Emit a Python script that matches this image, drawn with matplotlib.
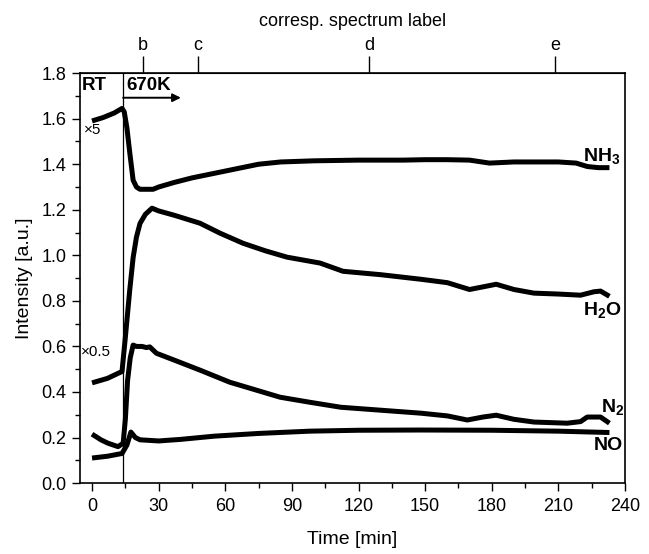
import matplotlib
matplotlib.use("Agg")
import matplotlib.pyplot as plt
from matplotlib.ticker import MultipleLocator

plt.rcParams['font.family'] = ['Liberation Sans', 'DejaVu Sans']
plt.rcParams['mathtext.default'] = 'regular'

# ---- data ----
t_nh3 = [0, 5, 10, 13.5, 14.5, 15.7, 17, 18.5, 20, 21.6, 27.5, 30, 37, 45, 55, 65, 75,
         85, 100, 120, 140, 150, 160, 170, 179, 190, 200, 210, 218, 223, 228, 233]
nh3 = [1.59, 1.605, 1.625, 1.645, 1.63, 1.56, 1.45, 1.33, 1.30, 1.29, 1.29, 1.30, 1.32,
       1.34, 1.36, 1.38, 1.40, 1.41, 1.415, 1.418, 1.418, 1.42, 1.42, 1.418, 1.405,
       1.41, 1.41, 1.41, 1.405, 1.39, 1.385, 1.385]

t_h2o = [0, 7, 13.5, 15, 17, 18.5, 20, 21.6, 24, 27, 30, 37, 48.6, 57.7, 68, 78, 87.8,
         102.7, 113, 130, 148, 160, 170, 182, 190, 199, 210, 220, 226, 229, 233]
h2o = [0.44, 0.46, 0.49, 0.64, 0.85, 0.99, 1.08, 1.14, 1.18, 1.207, 1.195, 1.176, 1.141,
       1.097, 1.053, 1.02, 0.992, 0.966, 0.93, 0.915, 0.895, 0.88, 0.85, 0.873, 0.85,
       0.834, 0.83, 0.825, 0.84, 0.843, 0.82]

t_n2 = [0, 4, 7.2, 11.7, 14, 15, 16, 17.2, 18.5, 20, 22.5, 24.5, 26, 29, 37, 48.6, 62,
        84.7, 98, 112, 130, 148, 160, 169, 176, 182, 190, 199, 214, 220, 223, 229, 233]
n2 = [0.215, 0.19, 0.175, 0.16, 0.175, 0.28, 0.45, 0.55, 0.606, 0.60, 0.60, 0.595,
      0.598, 0.57, 0.54, 0.496, 0.443, 0.377, 0.355, 0.333, 0.32, 0.307, 0.295, 0.277,
      0.29, 0.298, 0.28, 0.268, 0.263, 0.27, 0.29, 0.29, 0.263]

t_no = [0, 7, 13.5, 15.7, 17.5, 19.5, 21.6, 30, 40, 55, 75, 98, 120, 148, 180, 210, 233]
no = [0.11, 0.118, 0.13, 0.167, 0.224, 0.20, 0.19, 0.185, 0.192, 0.206, 0.218, 0.228,
      0.232, 0.233, 0.232, 0.228, 0.222]

spec_pos = [23, 47.7, 124.8, 208.5]
spec_labels = ['b', 'c', 'd', 'e']

# ---- figure ----
fig = plt.figure(figsize=(6.49, 5.54), dpi=100)
ax = fig.add_axes([0.123, 0.128, 0.840, 0.740])

lw = 3.6
for t, y in [(t_nh3, nh3), (t_h2o, h2o), (t_n2, n2), (t_no, no)]:
    ax.plot(t, y, color='black', lw=lw, solid_joinstyle='round', solid_capstyle='butt')

ax.axvline(14, color='black', lw=0.9)

ax.set_xlim(-5.5, 240)
ax.set_ylim(0.0, 1.8)
ax.xaxis.set_major_locator(MultipleLocator(30))
ax.xaxis.set_minor_locator(MultipleLocator(15))
ax.yaxis.set_major_locator(MultipleLocator(0.2))
ax.yaxis.set_minor_locator(MultipleLocator(0.1))
ax.yaxis.set_major_formatter(matplotlib.ticker.FormatStrFormatter('%.1f'))
ax.tick_params(axis='both', which='major', direction='out', length=6, width=1,
               labelsize=13)
ax.tick_params(axis='both', which='minor', direction='out', length=3.5, width=1)
ax.tick_params(axis='x', pad=5)
for s in ax.spines.values():
    s.set_linewidth(1.2)

ax.set_xlabel('Time [min]', fontsize=14, labelpad=11)
ax.set_ylabel('Intensity [a.u.]', fontsize=14, labelpad=6)

# top axis
ax2 = ax.secondary_xaxis('top')
ax2.set_xticks(spec_pos)
ax2.set_xticklabels(spec_labels)
ax2.tick_params(direction='out', length=12, width=1, labelsize=13, pad=2)
ax2.set_xlabel('corresp. spectrum label', fontsize=13, labelpad=8)

# annotations
ax.text(-4.8, 1.745, 'RT', fontsize=13.5, fontweight='bold', va='center', ha='left')
ax.text(15.5, 1.745, '670K', fontsize=13.5, fontweight='bold', va='center', ha='left')
ax.annotate('', xy=(40, 1.692), xytext=(14, 1.692),
            arrowprops=dict(arrowstyle='-|>', lw=1.4, color='black',
                            mutation_scale=12, shrinkA=0, shrinkB=0))
ax.text(-3.5, 1.55, '×5', fontsize=11, va='center', ha='left')
ax.text(-4.8, 0.575, '×0.5', fontsize=11, va='center', ha='left')

ax.text(221, 1.435, 'NH$_3$', fontsize=14, fontweight='bold', va='center', ha='left')
ax.text(221, 0.76, 'H$_2$O', fontsize=14, fontweight='bold', va='center', ha='left')
ax.text(229, 0.335, 'N$_2$', fontsize=14, fontweight='bold', va='center', ha='left')
ax.text(226, 0.165, 'NO', fontsize=14, fontweight='bold', va='center', ha='left')

fig.savefig('out.png', dpi=100)
